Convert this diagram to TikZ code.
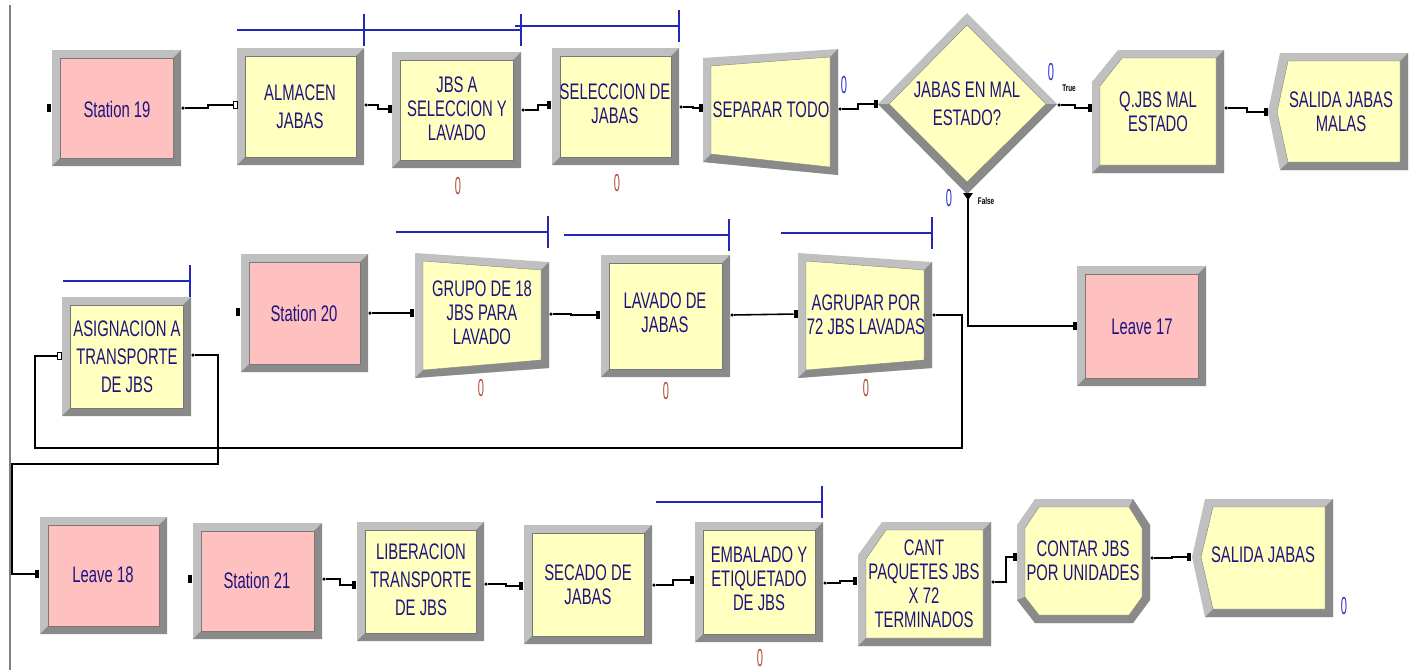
\documentclass[tikz,border=0pt]{standalone}
\usepackage{fontspec}
\setmainfont{Liberation Sans}[FakeStretch=0.66]
\newfontfamily\cntfont{Liberation Sans}[FakeStretch=0.45]
\usetikzlibrary{calc}

\definecolor{modpink}{RGB}{255,192,192}
\definecolor{modyellow}{RGB}{255,255,192}
\definecolor{frlight}{RGB}{192,192,192}
\definecolor{frdark}{RGB}{138,138,138}
\definecolor{frline}{RGB}{120,120,120}
\definecolor{modtext}{RGB}{30,20,125}
\definecolor{qblue}{RGB}{35,40,185}
\definecolor{cntred}{RGB}{175,75,50}
\definecolor{cntblue}{RGB}{45,45,205}

\tikzset{
  lbl/.style={align=center, text=modtext, font=\fontsize{12.8}{13.6}\selectfont, inner sep=0pt},
  widelbl/.style={lbl, font=\fontsize{12.8}{16}\selectfont},
  conn/.style={line width=0.9pt, black},
  inport/.style={fill=black, minimum width=0.08cm, minimum height=0.15cm, inner sep=0pt},
  openport/.style={inport, fill=white, draw=black, line width=0.5pt},
  outport/.style={circle, fill=black, minimum size=0.07cm, inner sep=0pt},
  qline/.style={qblue, line width=0.8pt},
  cnt/.style={font=\cntfont\fontsize{14}{14}\selectfont, inner sep=0pt},
  tflbl/.style={font=\fontsize{5.5}{6}\selectfont\bfseries, inner sep=0pt}
}

% bevelled module: x1, x2, top-left y, top-right y, bottom-right y, bottom-left y, fill
\newcommand{\modquad}[7]{%
  \fill[frlight] (#1,#3) -- (#2,#4) -- (#2,#5) -- (#1,#6) -- cycle;
  \fill[frdark] (#2,#4) -- (#2,#5) -- (#1,#6) -- (#1+8,#6-8) -- (#2-8,#5-8) -- (#2-8,#4+8) -- cycle;
  \fill[#7] (#1+8,#3+8) -- (#2-8,#4+8) -- (#2-8,#5-8) -- (#1+8,#6-8) -- cycle;
  \draw[frline, line width=0.2pt] (#1+8,#3+8) -- (#2-8,#4+8) -- (#2-8,#5-8) -- (#1+8,#6-8) -- cycle;
}
\newcommand{\modbox}[5]{\modquad{#1}{#3}{#2}{#2}{#4}{#4}{#5}}
% queue line: x1, x2, y
\newcommand{\queueline}[3]{\draw[qline] (#1,#3) -- (#2,#3) (#2,#3-16) -- (#2,#3+16);}

\begin{document}
\begin{tikzpicture}[x=0.02cm, y=-0.02cm]
\useasboundingbox (0,0) rectangle (1416,670);
\draw[gray, line width=0.8pt] (10,5) -- (10,670);

% ---- first row
\modbox{52}{50}{181}{166}{modpink}
\node[lbl] (st19) at (117,109) {Station 19};
\node[inport] (st19-in) at (49,108) {};
\node[outport] (st19-out) at (183,108) {};

\queueline{237}{364}{30}
\modbox{237}{48}{364}{165}{modyellow}
\node[widelbl] (alm) at (300,107) {ALMACEN\\JABAS};
\node[openport] (alm-in) at (235,105) {};
\node[outport] (alm-out) at (366,105) {};

\queueline{364}{521}{30}
\modbox{392}{52}{521}{168}{modyellow}
\node[lbl] (jbs) at (457,109) {JBS A\\SELECCION Y\\LAVADO};
\node[inport] (jbs-in) at (390,109) {};
\node[outport] (jbs-out) at (523,110) {};
\node[cnt, text=cntred] (jbs-cnt) at (458,186) {0};

\queueline{515}{679}{26}
\modbox{552}{48}{679}{165}{modyellow}
\node[lbl] (sel) at (615,104) {SELECCION DE\\JABAS};
\node[inport] (sel-in) at (549,105) {};
\node[outport] (sel-out) at (681,107) {};
\node[cnt, text=cntred] (sel-cnt) at (617,183) {0};

\modquad{703}{838}{58}{49}{175}{162}{modyellow}
\node[lbl] (sep) at (771,110) {SEPARAR TODO};
\node[inport] (sep-in) at (701,108) {};
\node[outport] (sep-out) at (840,109) {};
\node[cnt, text=cntblue] (sep-cnt) at (844,85) {0};

% decide
\fill[frlight] (878,104) -- (967,13) -- (1057,104) -- (967,194) -- cycle;
\fill[frdark] (1057,104) -- (967,194) -- (878,104) -- (889,104) -- (967,182) -- (1046,104) -- cycle;
\fill[modyellow] (889,104) -- (967,25) -- (1046,104) -- (967,182) -- cycle;
\draw[frline, line width=0.2pt] (889,104) -- (967,25) -- (1046,104) -- (967,182) -- cycle;
\node[widelbl] (dec) at (967,104) {JABAS EN MAL\\ESTADO?};
\node[inport] (dec-in) at (876,104) {};
\node[outport] (dec-true) at (1059,105) {};
\fill (963,193) -- (973,193) -- (968,200) -- cycle;
\coordinate (dec-false) at (968,199);
\node[cnt, text=cntblue] (true-cnt) at (1051,72) {0};
\node[cnt, text=cntblue] (false-cnt) at (949,198) {0};
\node[tflbl] (true-lbl) at (1069,88) {True};
\node[tflbl] (false-lbl) at (986,201) {False};

% hold
\fill[frlight] (1092,82) -- (1118,50) -- (1224,50) -- (1224,173) -- (1092,173) -- cycle;
\fill[frdark] (1224,50) -- (1224,173) -- (1092,173) -- (1100,165) -- (1216,165) -- (1216,58) -- cycle;
\fill[modyellow] (1100,86) -- (1122,58) -- (1216,58) -- (1216,165) -- (1100,165) -- cycle;
\draw[frline, line width=0.2pt] (1100,86) -- (1122,58) -- (1216,58) -- (1216,165) -- (1100,165) -- cycle;
\node[lbl] (qmal) at (1158,112) {Q.JBS MAL\\ESTADO};
\node[inport] (qmal-in) at (1090,108) {};
\node[outport] (qmal-out) at (1226,108) {};

% dispose
\fill[frlight] (1280,53) -- (1408,53) -- (1408,170) -- (1280,170) -- (1268,112) -- cycle;
\fill[frdark] (1408,53) -- (1408,170) -- (1280,170) -- (1288,162) -- (1400,162) -- (1400,61) -- cycle;
\fill[modyellow] (1288,61) -- (1400,61) -- (1400,162) -- (1288,162) -- (1277,112) -- cycle;
\draw[frline, line width=0.2pt] (1288,61) -- (1400,61) -- (1400,162) -- (1288,162) -- (1277,112) -- cycle;
\node[lbl] (salm) at (1341,112) {SALIDA JABAS\\MALAS};
\node[inport] (salm-in) at (1266,112) {};

% ---- second row
\queueline{63}{190}{281}
\modbox{62}{297}{191}{416}{modyellow}
\node[widelbl] (asig) at (127,357) {ASIGNACION A\\TRANSPORTE\\DE JBS};
\node[openport] (asig-in) at (59,356) {};
\node[outport] (asig-out) at (193,355) {};

\modbox{241}{254}{368}{372}{modpink}
\node[lbl] (st20) at (304,313) {Station 20};
\node[inport] (st20-in) at (238,312) {};
\node[outport] (st20-out) at (370,313) {};

\queueline{396}{548}{232}
\modquad{415}{549}{253}{262}{368}{378}{modyellow}
\node[lbl] (grp) at (482,313) {GRUPO DE 18\\JBS PARA\\LAVADO};
\node[inport] (grp-in) at (412,313) {};
\node[outport] (grp-out) at (551,314) {};
\node[cnt, text=cntred] (grp-cnt) at (481,388) {0};

\queueline{564}{729}{235}
\modbox{601}{255}{730}{377}{modyellow}
\node[lbl] (lav) at (665,313) {LAVADO DE\\JABAS};
\node[inport] (lav-in) at (598,315) {};
\node[outport] (lav-out) at (732,315) {};
\node[cnt, text=cntred] (lav-cnt) at (666,391) {0};

\queueline{781}{932}{233}
\modquad{798}{932}{253}{262}{368}{378}{modyellow}
\node[lbl] (agr) at (866,315) {AGRUPAR POR\\72 JBS LAVADAS};
\node[inport] (agr-in) at (796,314) {};
\node[outport] (agr-out) at (934,315) {};
\node[cnt, text=cntred] (agr-cnt) at (866,388) {0};

\modbox{1077}{266}{1206}{386}{modpink}
\node[lbl] (lv17) at (1142,327) {Leave 17};
\node[inport] (lv17-in) at (1075,326) {};

% ---- third row
\modbox{40}{517}{167}{634}{modpink}
\node[lbl] (lv18) at (103,575) {Leave 18};
\node[inport] (lv18-in) at (37,574) {};

\modbox{193}{523}{322}{639}{modpink}
\node[lbl] (st21) at (257,580) {Station 21};
\node[inport] (st21-in) at (190,579) {};
\node[outport] (st21-out) at (324,579) {};

\modbox{357}{522}{484}{641}{modyellow}
\node[widelbl] (lib) at (421,580) {LIBERACION\\TRANSPORTE\\DE JBS};
\node[inport] (lib-in) at (354,585) {};
\node[outport] (lib-out) at (486,584) {};

\modbox{524}{525}{652}{644}{modyellow}
\node[lbl] (sec) at (588,585) {SECADO DE\\JABAS};
\node[inport] (sec-in) at (521,586) {};
\node[outport] (sec-out) at (654,585) {};

\queueline{656}{822}{502}
\modbox{695}{522}{823}{642}{modyellow}
\node[lbl] (emb) at (759,579) {EMBALADO Y\\ETIQUETADO\\DE JBS};
\node[inport] (emb-in) at (692,580) {};
\node[outport] (emb-out) at (825,583) {};
\node[cnt, text=cntred] (emb-cnt) at (760,658) {0};

% record
\fill[frlight] (858,555) -- (882,522) -- (991,522) -- (991,646) -- (858,646) -- cycle;
\fill[frdark] (991,522) -- (991,646) -- (858,646) -- (866,638) -- (983,638) -- (983,530) -- cycle;
\fill[modyellow] (866,559) -- (886,530) -- (983,530) -- (983,638) -- (866,638) -- cycle;
\draw[frline, line width=0.2pt] (866,559) -- (886,530) -- (983,530) -- (983,638) -- (866,638) -- cycle;
\node[lbl] (cant) at (924,584) {CANT\\PAQUETES JBS\\X 72\\TERMINADOS};
\node[inport] (cant-in) at (855,581) {};
\node[outport] (cant-out) at (993,582) {};

% octagon
\fill[frlight] (1035,499) -- (1133,499) -- (1150,525) -- (1150,600) -- (1133,623) -- (1035,623) -- (1017,600) -- (1017,525) -- cycle;
\fill[frdark] (1133,499) -- (1150,525) -- (1150,600) -- (1133,623) -- (1035,623) -- (1017,600) -- (1025,597) -- (1039,615) -- (1129,615) -- (1142,597) -- (1142,528) -- (1129,507) -- cycle;
\fill[modyellow] (1039,507) -- (1129,507) -- (1142,528) -- (1142,597) -- (1129,615) -- (1039,615) -- (1025,597) -- (1025,528) -- cycle;
\draw[frline, line width=0.2pt] (1039,507) -- (1129,507) -- (1142,528) -- (1142,597) -- (1129,615) -- (1039,615) -- (1025,597) -- (1025,528) -- cycle;
\node[lbl] (cnt) at (1083,561) {CONTAR JBS\\POR UNIDADES};
\node[inport] (cnt-in) at (1015,557) {};
\node[outport] (cnt-out) at (1152,558) {};

% dispose
\fill[frlight] (1205,499) -- (1333,499) -- (1333,617) -- (1205,617) -- (1192,557) -- cycle;
\fill[frdark] (1333,499) -- (1333,617) -- (1205,617) -- (1213,609) -- (1325,609) -- (1325,507) -- cycle;
\fill[modyellow] (1213,507) -- (1325,507) -- (1325,609) -- (1213,609) -- (1201,557) -- cycle;
\draw[frline, line width=0.2pt] (1213,507) -- (1325,507) -- (1325,609) -- (1213,609) -- (1201,557) -- cycle;
\node[lbl] (sal) at (1263,555) {SALIDA JABAS};
\node[inport] (sal-in) at (1189,557) {};
\node[cnt, text=cntblue] (sal-cnt) at (1344,606) {0};

% connectors
\draw[conn] (st19-out) -- ++(25,0) |- (alm-in);
\draw[conn] (alm-out) -- ++(12,0) |- (jbs-in);
\draw[conn] (jbs-out) -- ++(15,0) |- (sel-in);
\draw[conn] (sel-out) -- ++(12,0) |- (sep-in);
\draw[conn] (sep-out) -- ++(18,0) |- (dec-in);
\draw[conn] (dec-true) -- ++(16,0) |- (qmal-in);
\draw[conn] (qmal-out) -- ++(21,0) |- (salm-in);
\draw[conn] (dec-false) |- (lv17-in);
\draw[conn] (st20-out) -- (grp-in);
\draw[conn] (grp-out) -- ++(20,0) |- (lav-in);
\draw[conn] (lav-out) -- (agr-in);
\draw[conn] (agr-out) -| (962,448) -| (35,400) |- (asig-in);
\draw[conn] (asig-out) -| (218,464) -| (12,520) |- (lv18-in);
\draw[conn] (st21-out) -- ++(16,0) |- (lib-in);
\draw[conn] (lib-out) -- ++(20,0) |- (sec-in);
\draw[conn] (sec-out) -- ++(19,0) |- (emb-in);
\draw[conn] (emb-out) -- ++(15,0) |- (cant-in);
\draw[conn] (cant-out) -- ++(13,0) |- (cnt-in);
\draw[conn] (cnt-out) -- ++(20,0) |- (sal-in);
\end{tikzpicture}
\end{document}
